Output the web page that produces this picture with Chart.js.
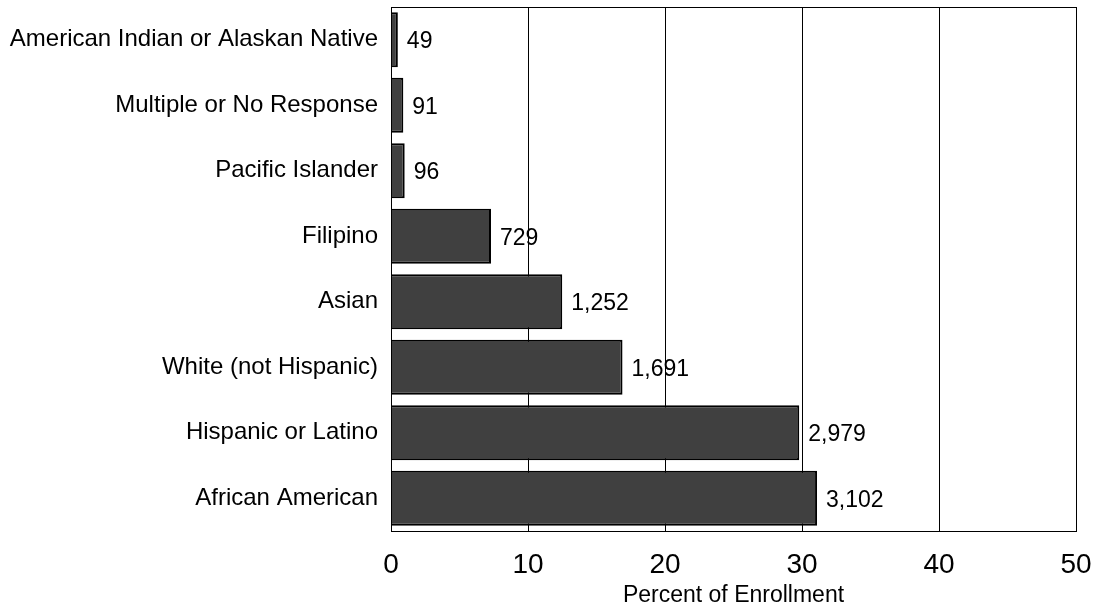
<!DOCTYPE html>
<html>
<head>
<meta charset="utf-8">
<script src="https://cdn.jsdelivr.net/npm/chart.js@4.4.1/dist/chart.umd.min.js"></script>
<style>
  html, body { margin: 0; padding: 0; background: #fff; }
  #wrap { width: 1099px; height: 611px; }
</style>
</head>
<body>
<div id="wrap"><canvas id="grafica"></canvas></div>
<script>
// categories, top to bottom
var grups = [
    "American Indian or Alaskan Native",
    "Multiple or No Response",
    "Pacific Islander",
    "Filipino",
    "Asian",
    "White (not Hispanic)",
    "Hispanic or Latino",
    "African American"
];
// percent of enrollment (bar length)
var percent = [0.5, 0.9, 1.0, 7.3, 12.5, 16.9, 29.8, 31.1];
// headcount printed next to each bar
var alumnes = ["49", "91", "96", "729", "1,252", "1,691", "2,979", "3,102"];
var xTicks = [0, 10, 20, 30, 40, 50];

var FONT = "'Liberation Sans', Arial, sans-serif";

// frame round the plot area
var marc = {
    id: "marc",
    afterDraw: function (chart) {
        var a = chart.chartArea, c = chart.ctx;
        c.save();
        c.strokeStyle = "#000";
        c.lineWidth = 1;
        c.strokeRect(Math.round(a.left) + 0.5, Math.round(a.top) + 0.5,
            Math.round(a.right - a.left), Math.round(a.bottom - a.top));
        c.restore();
    }
};

// counts to the right of each bar
var etiquetes = {
    id: "etiquetes",
    afterDatasetsDraw: function (chart) {
        var c = chart.ctx;
        var meta = chart.getDatasetMeta(0);
        c.save();
        c.font = "23px " + FONT;
        c.fillStyle = "#000";
        c.textAlign = "left";
        c.textBaseline = "middle";
        meta.data.forEach(function (bar, i) {
            c.fillText(alumnes[i], bar.x + 9, bar.y + 2);
        });
        c.restore();
    }
};

new Chart(document.getElementById("grafica"), {
    type: "bar",
    data: {
        labels: grups,
        datasets: [{
            data: percent,
            backgroundColor: "#404040",
            borderColor: "#000",
            borderWidth: 2,
            categoryPercentage: 1,
            barPercentage: 0.84
        }]
    },
    options: {
        indexAxis: "y",
        responsive: true,
        maintainAspectRatio: false,
        animation: false,
        layout: { padding: { top: 7, right: 23, bottom: 0, left: 0 } },
        plugins: {
            legend: { display: false },
            tooltip: { enabled: false }
        },
        scales: {
            x: {
                min: 0,
                max: 50,
                afterBuildTicks: function (axis) {
                    axis.ticks = xTicks.map(function (v) { return { value: v }; });
                },
                afterFit: function (axis) {
                    axis.height = 80;
                    axis.paddingLeft = 0;
                    axis.paddingRight = 0;
                },
                grid: { color: "#000", lineWidth: 1, drawTicks: false },
                border: { display: true, color: "#000" },
                ticks: {
                    color: "#000",
                    padding: 17,
                    maxRotation: 0,
                    font: { family: FONT, size: 28 }
                },
                title: {
                    display: true,
                    text: "Percent of Enrollment",
                    color: "#000",
                    padding: { top: 0, bottom: 2 },
                    font: { family: FONT, size: 23 }
                }
            },
            y: {
                afterFit: function (axis) {
                    axis.width = 391;
                    axis.paddingTop = 0;
                    axis.paddingBottom = 0;
                },
                grid: { display: false, drawTicks: false },
                border: { display: true, color: "#000" },
                ticks: {
                    color: "#000",
                    padding: 13,
                    font: { family: FONT, size: 24 }
                }
            }
        }
    },
    plugins: [marc, etiquetes]
});
</script>
</body>
</html>
